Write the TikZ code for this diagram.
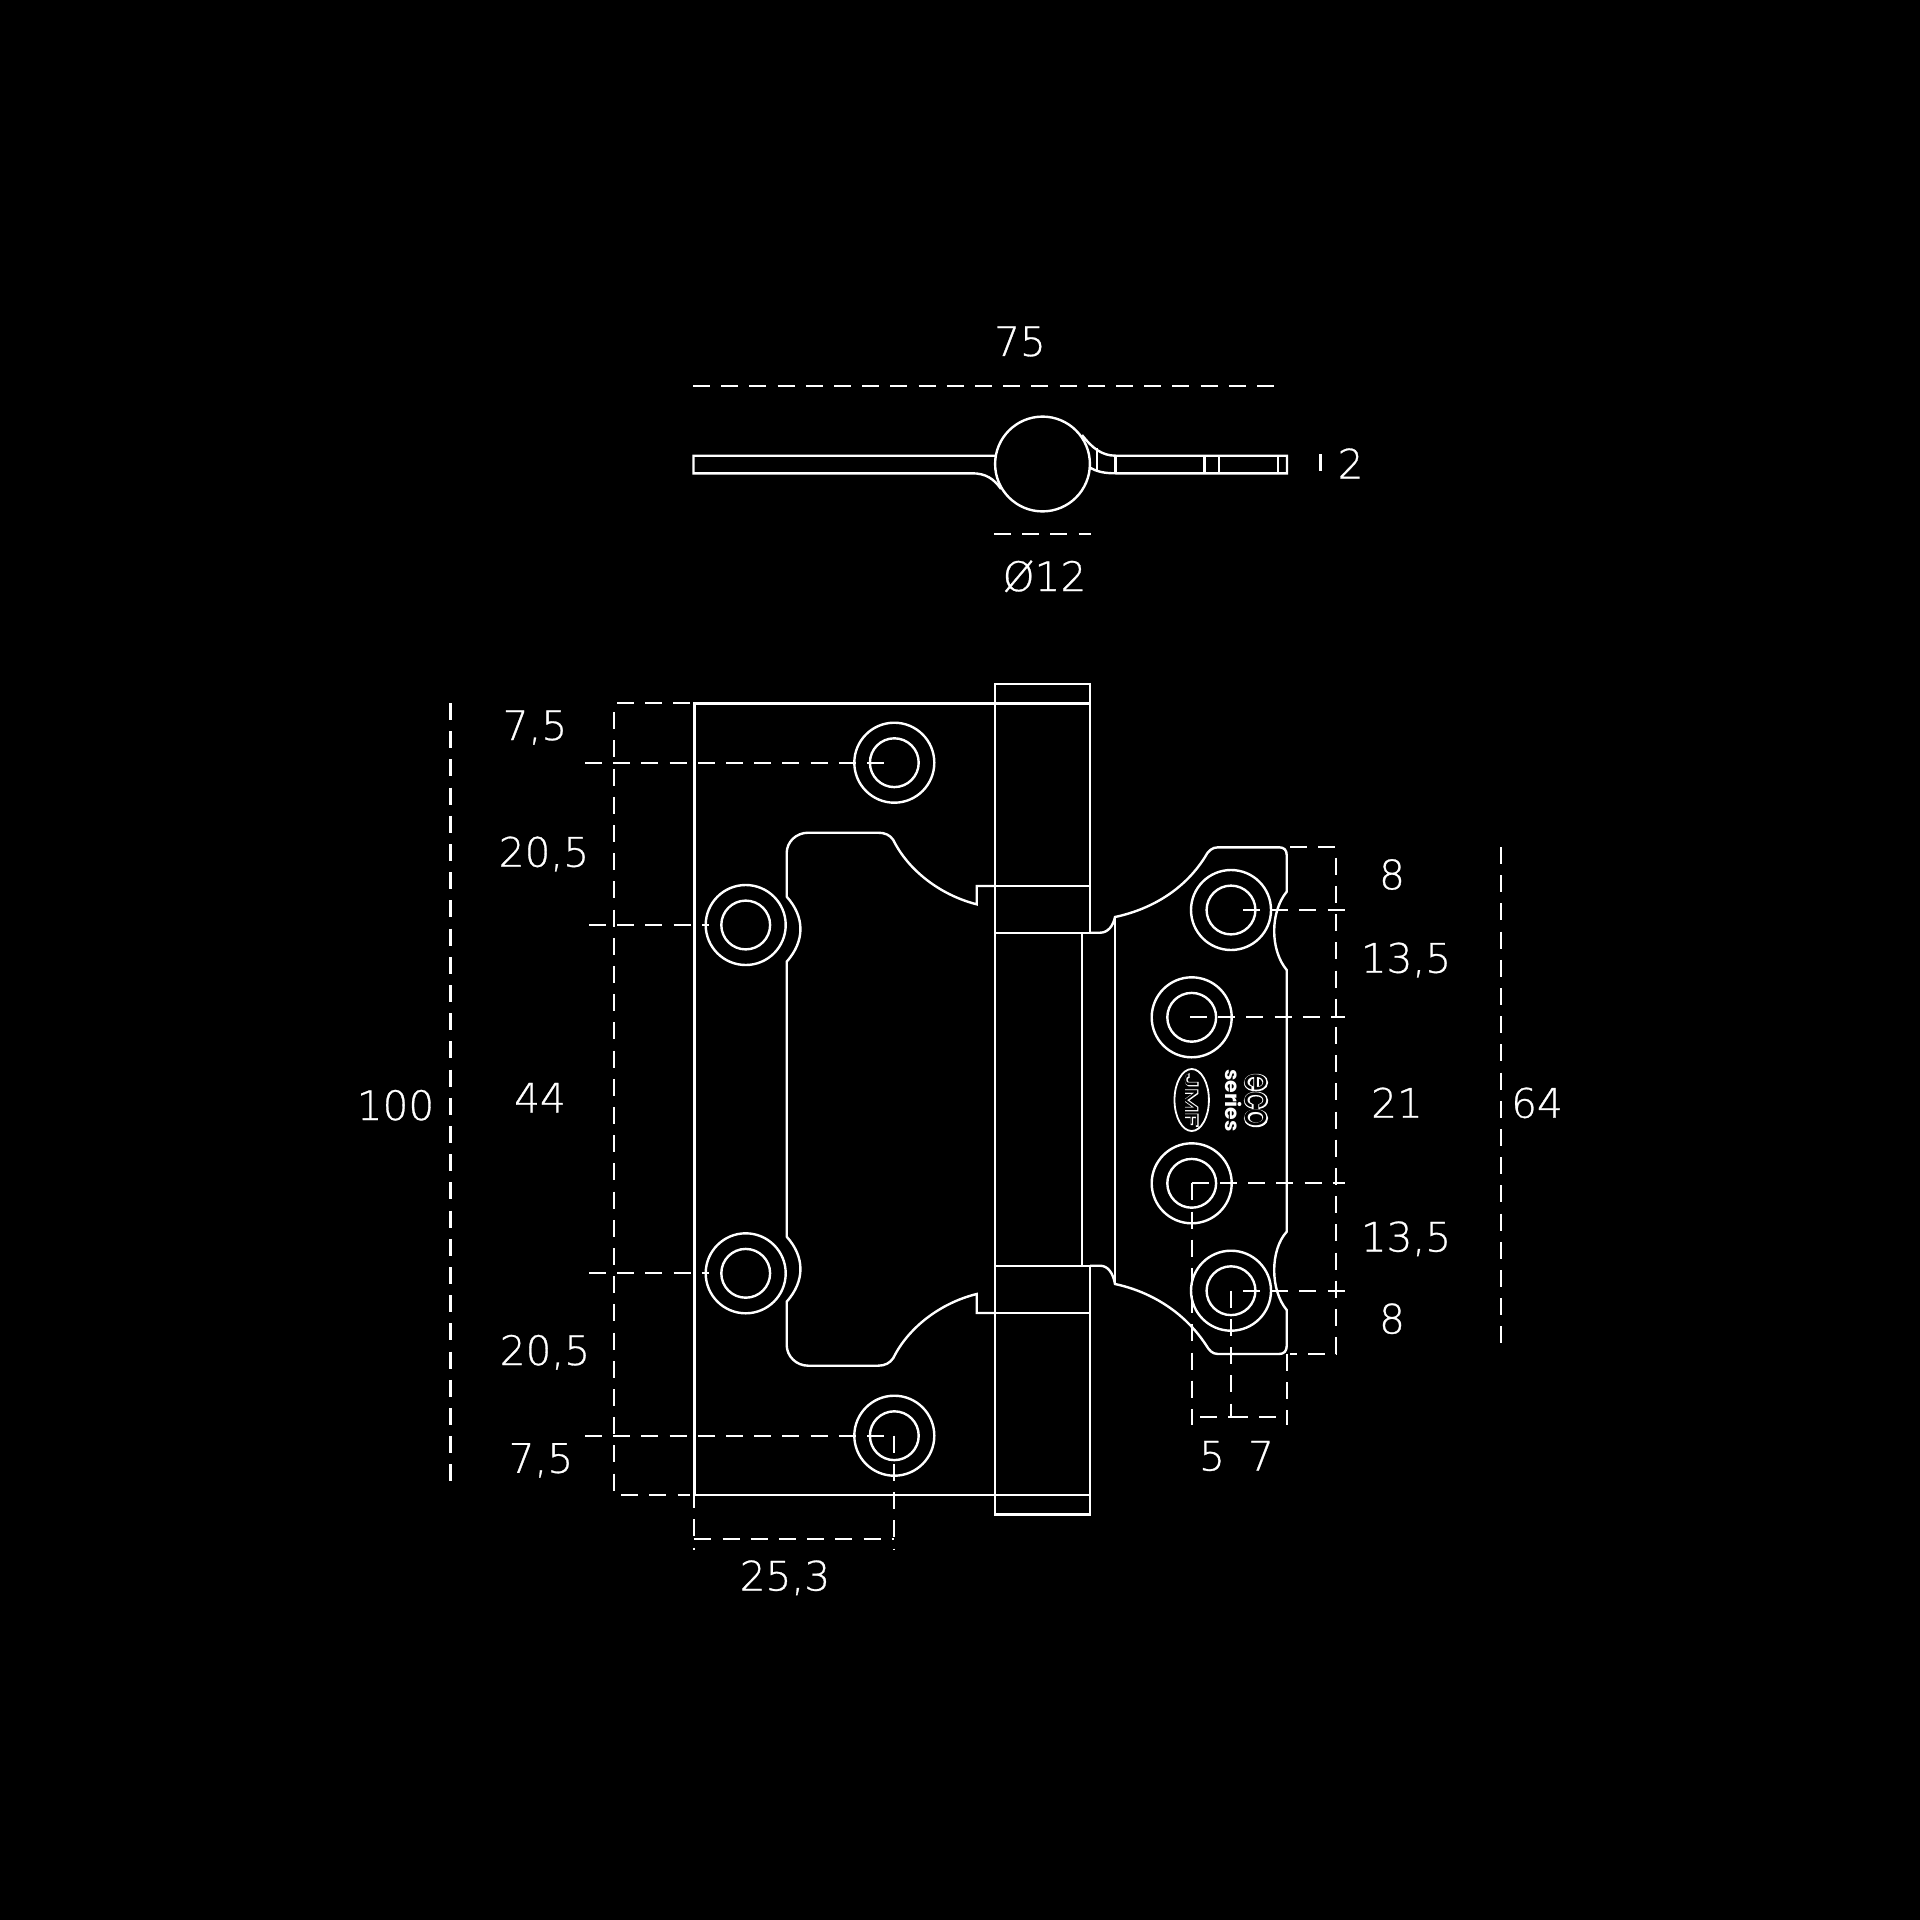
\documentclass[tikz,border=0pt]{standalone}
\usepackage{fontspec}
\usepackage{graphicx}
\setmainfont{DejaVu Sans ExtraLight}[FakeBold=0.7]
\newfontfamily\labelfont[FakeBold=0.7]{DejaVu Sans ExtraLight}
\newfontfamily\logoouter[FakeBold=7]{Poppins}
\newfontfamily\logoinner{Poppins}
\newfontfamily\seriesfont{Poppins}
\tikzset{
  part/.style={draw=white,line width=1.2pt,line join=miter},
  hole/.style={draw=white,line width=1.2pt},
  dim/.style={draw=white,line width=1.15pt,dash pattern=on 8.5pt off 5.6pt},
  lab/.style={text=white,font=\labelfont\fontsize{20.3}{24}\selectfont,inner sep=0pt,anchor=base},
}
\newcommand{\screw}[3]{\draw[hole] (#1,#2) circle[radius=20pt]; \draw[hole] (#1,#2) circle[radius=12.2pt];}
\begin{document}
\begin{tikzpicture}[x=0.5pt,y=-0.5pt]
\useasboundingbox[fill=black] (0,0) rectangle (1920,1920);
% top view
\draw[part] (995,455.7) -- (693.5,455.7) -- (693.5,473.3) -- (972,473.3) .. controls (986,473.3) and (994,479) .. (1001,489);
\draw[hole] (1042.5,464) circle[radius=23.7pt];
\draw[part] (1082,435) .. controls (1092,448) and (1102,455.7) .. (1115.5,455.7) -- (1287,455.7) -- (1287,473.3) -- (1115.5,473.3) .. controls (1105,473.3) and (1097,472) .. (1089,467);
\draw[part] (1115.5,455.7)--(1115.5,473.3) (1097,448)--(1097,470) (1204.5,455.7)--(1204.5,473.3) (1219,455.7)--(1219,473.3) (1278,455.7)--(1278,473.3);
\draw[dim] (693,385.7) -- (1277,385.7);
\draw[dim] (994,533.7) -- (1091,533.7);
\draw[dim] (1320.6,454) -- (1320.6,471);
% left leaf
\draw[part] (995,703.3) -- (694.3,703.3) -- (694.3,1495) -- (995,1495);
\draw[part] (995,684) rectangle (1090,703.3);
\draw[part] (995,1495) rectangle (1090,1514.3);
\draw[part] (995,703.3) -- (995,1495) (1090,703.3) -- (1090,932.7) (1090,1265.7) -- (1090,1495);
\draw[part] (995,886) -- (1090,886) (995,932.7) -- (1090,932.7) (995,1265.7) -- (1090,1265.7) (995,1313) -- (1090,1313);
\draw[part] (1081.7,932.7) -- (1081.7,1265.7);
\draw[part] (995,886) -- (976.7,886) -- (976.7,904.3) .. controls (940,895) and (908,870) .. (893.3,840) .. controls (890,835) and (885,832.7) .. (878,832.7) -- (808.3,832.7) .. controls (796,832.7) and (786.7,842) .. (786.7,853) -- (786.7,896.7) .. controls (805,917) and (805,941) .. (786.7,961.7) -- (786.7,1236.7) .. controls (805,1257) and (805,1281) .. (786.7,1301.7) -- (786.7,1345) .. controls (786.7,1356) and (796,1365.7) .. (808.3,1365.7) -- (878,1365.7) .. controls (885,1365.7) and (890,1363) .. (893.3,1358) .. controls (908,1328) and (940,1303) .. (976.7,1294) -- (976.7,1313) -- (995,1313);
\screw{894.3}{762.7}{}
\screw{745.7}{925}{}
\screw{745.7}{1273.3}{}
\screw{894.3}{1435.7}{}
% right leaf
\draw[part] (1090,932.7) -- (1100,932.7) .. controls (1108,932.7) and (1113,926) .. (1115,917) .. controls (1148,910) and (1183,892) .. (1205,857) .. controls (1208,851) and (1212,847.3) .. (1218,847.3) -- (1279,847.3) .. controls (1284,847.3) and (1286.7,850) .. (1286.7,855) -- (1286.7,891.7) .. controls (1270,912) and (1270,950) .. (1286.7,970) -- (1286.7,1231.7) .. controls (1270,1250) and (1270,1290) .. (1286.7,1310) -- (1286.7,1346) .. controls (1286.7,1351) and (1284,1354) .. (1279,1354) -- (1218,1354) .. controls (1212,1354) and (1209,1350) .. (1206,1345) .. controls (1183,1310) and (1148,1291) .. (1115,1284) .. controls (1113,1273) and (1108,1265.7) .. (1100,1265.7) -- (1090,1265.7);
\draw[part] (1115,917) -- (1115,1284);
\screw{1231}{910}{}
\screw{1191.7}{1017.3}{}
\screw{1191.7}{1183.3}{}
\screw{1231}{1290.7}{}
% logo
\draw[hole,line width=0.9pt] (1191.7,1100) ellipse[x radius=8.6pt,y radius=15.5pt];
\node[inner sep=0pt,text=white,rotate=-90] (jo) at (1191.7,1100) {\scalebox{1.6}[1]{\logoouter\fontsize{8.8}{9}\selectfont JMF}};
\node[inner sep=0pt,text=black,rotate=-90] (ji) at (1191.7,1100) {\scalebox{1.6}[1]{\logoinner\fontsize{8.8}{9}\selectfont JMF}};
\node[inner sep=0pt,text=white,rotate=-90] (se) at (1234,1100.5) {\seriesfont\bfseries\fontsize{10.2}{10}\selectfont series};
\node[inner sep=0pt,text=white,rotate=-90] (eo) at (1256,1100.5) {\scalebox{.76}[1]{\logoouter\fontsize{19}{19}\selectfont eco}};
\node[inner sep=0pt,text=black,rotate=-90] (ei) at (1256,1100.5) {\scalebox{.76}[1]{\logoinner\fontsize{19}{19}\selectfont eco}};
% dimension lines
\draw[dim] (450.6,703) -- (450.6,1484);
\draw[dim] (690,703.3) -- (614.3,703.3) -- (614.3,1495) -- (690,1495);
\draw[dim] (585,762.7) -- (886,762.7);
\draw[dim] (589,925) -- (709,925);
\draw[dim] (589,1273.3) -- (709,1273.3);
\draw[dim] (585,1435.7) -- (886,1435.7);
\draw[dim] (894.3,1435.7) -- (894.3,1550);
\draw[dim] (694.3,1463) -- (694.3,1550);
\draw[dim] (694.3,1539.3) -- (894.3,1539.3);
\draw[dim] (1290,847.3) -- (1336,847.3) -- (1336,1354) -- (1290,1354);
\draw[dim] (1243,910) -- (1345,910);
\draw[dim] (1190,1017.3) -- (1345,1017.3);
\draw[dim] (1191.7,1183.3) -- (1345,1183.3);
\draw[dim] (1243,1290.7) -- (1345,1290.7);
\draw[dim] (1191.7,1183.3) -- (1191.7,1425);
\draw[dim] (1231,1290.7) -- (1231,1417.3) -- (1191.7,1417.3);
\draw[dim] (1286.7,1354) -- (1286.7,1425);
\draw[dim] (1231,1417.3) -- (1286.7,1417.3);
\draw[dim] (1501.3,847) -- (1501.3,1345);
% labels
\node[lab] (l75) at (1020,356) {75};
\node[lab] (l2) at (1350.6,478.5) {2};
\node[lab] (lo) at (1044.5,591) {Ø12};
\node[lab] (a) at (535,740) {7,5};
\node[lab] (b) at (544,866.7) {20,5};
\node[lab] (c) at (540,1112.5) {44};
\node[lab] (d) at (545,1365) {20,5};
\node[lab] (e) at (541,1472.8) {7,5};
\node[lab] (f) at (395.5,1120) {100};
\node[lab] (g) at (785,1590.5) {25,3};
\node[lab] (h) at (1392,889.3) {8};
\node[lab] (i) at (1406,972.7) {13,5};
\node[lab] (j) at (1397,1117.7) {21};
\node[lab] (k) at (1406,1251.5) {13,5};
\node[lab] (m) at (1392,1333.5) {8};
\node[lab] (n) at (1537,1117.7) {64};
\node[lab] (o) at (1212,1470.5) {5};
\node[lab] (p) at (1261,1470.5) {7};
\end{tikzpicture}
\end{document}
